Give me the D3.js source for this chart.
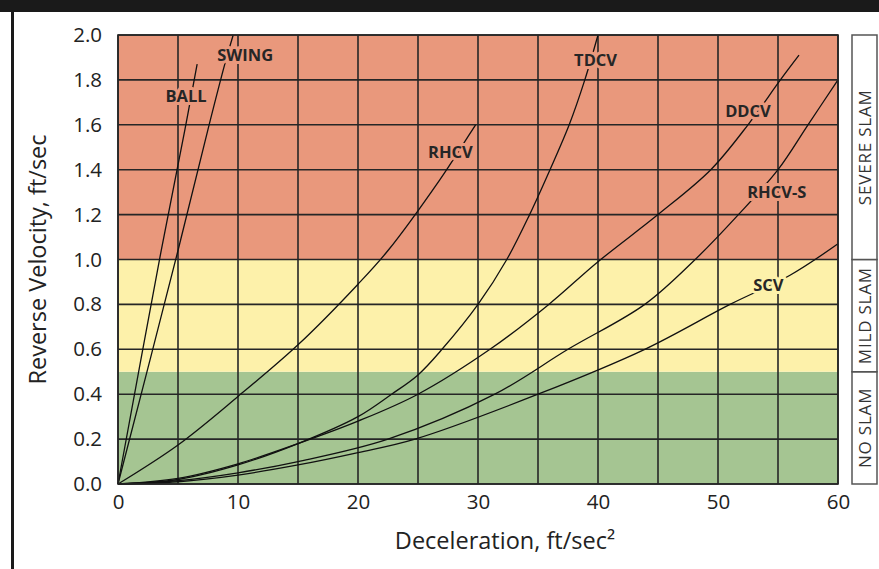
<!DOCTYPE html>
<html>
<head>
<meta charset="utf-8">
<script src="https://cdn.jsdelivr.net/npm/d3@7"></script>
<style>
  body { margin: 0; background: #fff; }
  text { font-family: "Open Sans", sans-serif; }
</style>
</head>
<body>
<div id="plot"></div>
<script>
var xTicks = [0, 10, 20, 30, 40, 50, 60];
var yTicks = [0, 0.2, 0.4, 0.6, 0.8, 1.0, 1.2, 1.4, 1.6, 1.8, 2.0];
var zoneBounds = [0, 0.5, 1.0, 2.0];
var zoneNames = ["NO SLAM", "MILD SLAM", "SEVERE SLAM"];

var curveNames = ["BALL", "SWING", "RHCV", "TDCV", "DDCV", "RHCV-S", "SCV"];
var ball   = [[0,0],[3.6,1.04],[5.58,1.58],[6.56,1.86],[6.6,1.87]];
var swing  = [[0,0],[5,1.04],[7.5,1.58],[8.9,1.87],[9.6,2.0]];
var rhcv   = [[0,0],[5,0.174],[10,0.39],[15,0.62],[20,0.89],[22.5,1.04],[26.8,1.354],[28.9,1.525],[29.8,1.6]];
var tdcv   = [[0,0],[5,0.02],[10,0.085],[15,0.18],[20,0.3],[22.8,0.4],[25,0.486],[27,0.6],[30,0.8],[32.4,1.0],[34.3,1.2],[36,1.4],[37.6,1.6],[38.9,1.8],[40,2.0]];
var ddcv   = [[0,0],[5,0.025],[10,0.09],[15,0.18],[20,0.28],[25,0.4],[31,0.6],[35.9,0.8],[40,0.99],[45,1.2],[49.4,1.4],[52.5,1.6],[55.2,1.8],[56.75,1.91]];
var rhcvS  = [[0,0],[5,0.015],[10,0.05],[15,0.1],[22.5,0.2],[31.4,0.4],[37.5,0.6],[43.9,0.8],[48.1,1.0],[51.7,1.2],[55,1.4],[57.5,1.6],[60,1.8]];
var scv    = [[0,0],[5,0.01],[10,0.04],[15,0.085],[20,0.14],[24.75,0.2],[35,0.4],[43.9,0.6],[51,0.8],[56,0.93],[60,1.07]];
var curves = [ball, swing, rhcv, tdcv, ddcv, rhcvS, scv];
// where each name sits, in data units
var labelAt = [[5.67,1.73],[10.6,1.91],[27.7,1.48],[39.8,1.89],[52.5,1.66],[54.9,1.3],[54.2,0.886]];

var zoneColor = ["#a5c592", "#fdf1aa", "#e9987c"];

var W = 879, H = 569;
var margin = { top: 35, right: 41, bottom: 85, left: 118 };
var width = W - margin.left - margin.right;
var height = H - margin.top - margin.bottom;

var root = d3.select("div#plot")
  .append("svg")
    .attr("width", W)
    .attr("height", H);

// frame pieces
root.append("rect").attr("x", 0).attr("y", 0).attr("width", W).attr("height", 12).attr("fill", "#1a1a1a");
root.append("rect").attr("x", 11).attr("y", 0).attr("width", 3).attr("height", H).attr("fill", "#1a1a1a");

var svg = root.append("g")
  .attr("transform", "translate(" + margin.left + "," + margin.top + ")");

var xscale = d3.scaleLinear().domain([0, 60]).range([0, width]);
var yscale = d3.scaleLinear().domain([0, 2]).range([height, 0]);

// zones
svg.selectAll("rect.zone")
  .data(zoneNames)
  .enter().append("rect")
    .attr("class", "zone")
    .attr("x", 0)
    .attr("width", width)
    .attr("y", function(d, i) { return yscale(zoneBounds[i + 1]); })
    .attr("height", function(d, i) { return yscale(zoneBounds[i]) - yscale(zoneBounds[i + 1]); })
    .attr("fill", function(d, i) { return zoneColor[i]; });

// grid
svg.selectAll("line.vgrid")
  .data(d3.range(0, 61, 5))
  .enter().append("line")
    .attr("x1", xscale).attr("x2", xscale)
    .attr("y1", 0).attr("y2", height)
    .attr("stroke", "#262626").attr("stroke-width", 1.6);

svg.selectAll("line.hgrid")
  .data(yTicks)
  .enter().append("line")
    .attr("y1", yscale).attr("y2", yscale)
    .attr("x1", 0).attr("x2", width)
    .attr("stroke", "#262626").attr("stroke-width", 1.6);

// axes (labels only)
var xAxis = d3.axisBottom(xscale).tickValues(xTicks).tickSize(0).tickPadding(10);
var yAxis = d3.axisLeft(yscale).tickValues(yTicks).tickSize(0).tickPadding(16)
  .tickFormat(d3.format(".1f"));

var gx = svg.append("g").attr("transform", "translate(0," + height + ")").call(xAxis);
var gy = svg.append("g").call(yAxis);
[gx, gy].forEach(function(g) {
  g.select(".domain").remove();
  g.selectAll("text").style("font-family", "Open Sans").style("font-size", "20.5px").attr("fill", "#222");
});

// curves
var line = d3.line()
  .x(function(d) { return xscale(d[0]); })
  .y(function(d) { return yscale(d[1]); })
  .curve(d3.curveCatmullRom.alpha(0.5));

svg.selectAll("path.curve")
  .data(curves)
  .enter().append("path")
    .attr("class", "curve")
    .attr("d", line)
    .attr("fill", "none")
    .attr("stroke", "#111")
    .attr("stroke-width", 1.3);

// curve labels, with a halo in the zone colour
function zoneOf(v) {
  return v >= zoneBounds[2] ? 2 : (v >= zoneBounds[1] ? 1 : 0);
}
svg.selectAll("text.cname")
  .data(curveNames)
  .enter().append("text")
    .attr("class", "cname")
    .attr("x", function(d, i) { return xscale(labelAt[i][0]); })
    .attr("y", function(d, i) { return yscale(labelAt[i][1]); })
    .attr("dy", "0.36em")
    .attr("text-anchor", "middle")
    .style("font-size", "16.5px")
    .style("font-weight", "bold")
    .style("paint-order", "stroke")
    .attr("stroke", function(d, i) { return zoneColor[zoneOf(labelAt[i][1])]; })
    .attr("stroke-width", 6)
    .attr("stroke-linejoin", "round")
    .attr("fill", "#262626")
    .text(function(d) { return d; });

// plot border
svg.append("rect")
  .attr("width", width).attr("height", height)
  .attr("fill", "none").attr("stroke", "#262626").attr("stroke-width", 1.6);

// slam boxes on the right
var box = svg.selectAll("g.slam")
  .data(zoneNames)
  .enter().append("g")
    .attr("class", "slam");

box.append("rect")
  .attr("x", width + 14)
  .attr("width", 25)
  .attr("y", function(d, i) { return yscale(zoneBounds[i + 1]); })
  .attr("height", function(d, i) { return yscale(zoneBounds[i]) - yscale(zoneBounds[i + 1]); })
  .attr("fill", "#fff")
  .attr("stroke", "#555")
  .attr("stroke-width", 1.5);

box.append("text")
  .attr("transform", function(d, i) {
    var cy = (yscale(zoneBounds[i]) + yscale(zoneBounds[i + 1])) / 2;
    return "translate(" + (width + 26.5) + "," + cy + ") rotate(-90)";
  })
  .attr("dy", "0.36em")
  .attr("text-anchor", "middle")
  .style("font-size", "17px")
  .style("letter-spacing", "0.8px")
  .attr("fill", "#333")
  .text(function(d) { return d; });

// axis titles
svg.append("text")
  .attr("x", 387)
  .attr("y", height + 65)
  .attr("text-anchor", "middle")
  .style("font-size", "23.5px")
  .attr("fill", "#222")
  .text("Deceleration, ft/sec²");

svg.append("text")
  .attr("transform", "translate(" + (-72) + "," + (height / 2) + ") rotate(-90)")
  .attr("text-anchor", "middle")
  .style("font-size", "23.5px")
  .attr("fill", "#222")
  .text("Reverse Velocity, ft/sec");
</script>
</body>
</html>
